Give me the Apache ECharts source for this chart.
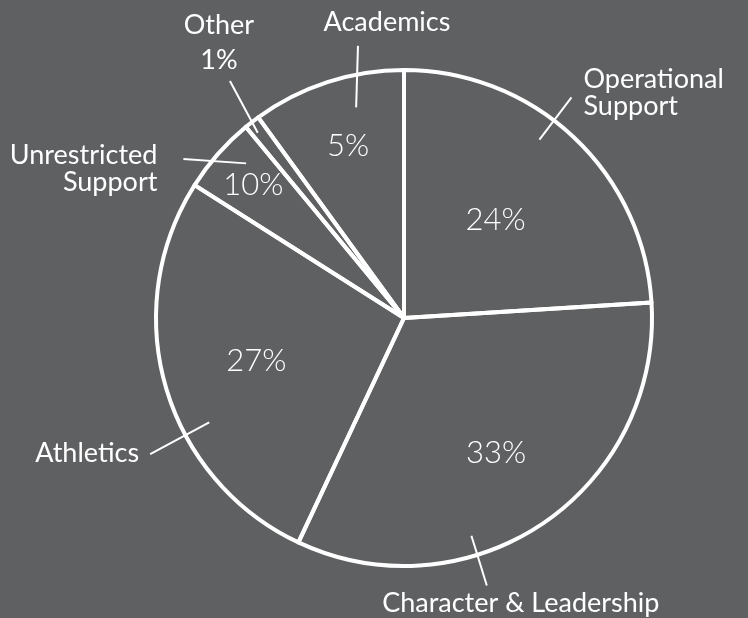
<!DOCTYPE html>
<html>
<head>
<meta charset="utf-8">
<script src="https://cdn.jsdelivr.net/npm/echarts@6/dist/echarts.min.js"></script>
<style>
  html, body { margin: 0; padding: 0; background: #5f6062; }
  #chart { width: 748px; height: 618px; }
</style>
</head>
<body>
<div id="chart"></div>
<script>
// clockwise from 12 o'clock
const categories = ['Operational\nSupport', 'Character & Leadership', 'Athletics', 'Unrestricted\nSupport', 'Other', 'Academics']
// slice sizes as drawn in the picture (measured from the angles)
const shares = [24, 33, 27, 5, 1, 10]
// percentages as printed on the picture (the source prints 10% / 5% on the
// Unrestricted / Academics slices although the drawn slices are the other way round)
const printedPct = ['24%', '33%', '27%', '10%', '1%', '5%']

const FONT = 'Lato'
const CENTER = [404, 318]
const R = 248
const total = shares.reduce((a, b) => a + b, 0)

// label tweaks (not data): radial spot of the % text, leader-line turn/radii, text anchor
const pctRadius = [0.54, 0.66, 0.62, 0.81, 0, 0.73]
const nameLabel = [
  { turn: [-6, -6], r1: 224, r2: 277, align: 'left', dx: 12, dy: -5 },
  { turn: [17, 17], r1: 228, r2: 280, align: 'center', dx: 34, dy: 18 },
  { turn: [-12, -12], r1: 221, r2: 288, align: 'right', dx: -11, dy: -1 },
  { turn: [3, -5.6], r1: 221, r2: 272, align: 'right', dx: -26, dy: 10 },
  { turn: [-0.5, 1.5], r1: 236, r2: 294, align: 'center', dx: -11, dy: -38 },
  { turn: [5.2, 8.4], r1: 216, r2: 276, align: 'center', dx: 29, dy: -24 }
]

function midAngle(i) {
  let before = 0
  for (let k = 0; k < i; k++) before += shares[k]
  return (before + shares[i] / 2) / total * 360
}

function polar(deg, r) {
  const a = deg * Math.PI / 180
  return [CENTER[0] + r * Math.sin(a), CENTER[1] - r * Math.cos(a)]
}

const chart = echarts.init(document.getElementById('chart'))

const data = categories.map((name, i) => ({ name: name, value: shares[i] }))
const nameData = categories.map((name, i) => {
  const item = { name: name, value: shares[i] }
  if (name === 'Other') item.label = { lineHeight: 35 }
  return item
})

chart.setOption({
  backgroundColor: '#5f6062',
  animation: false,
  series: [
    {
      // the visible pie (outline only, background shows through)
      type: 'pie',
      center: CENTER,
      radius: R,
      startAngle: 90,
      silent: true,
      avoidLabelOverlap: false,
      itemStyle: { color: 'transparent', borderColor: '#ffffff', borderWidth: 4 },
      label: { show: false },
      labelLine: { show: false },
      data: data
    },
    {
      // percentage labels inside the slices
      type: 'pie',
      center: CENTER,
      radius: R,
      startAngle: 90,
      silent: true,
      avoidLabelOverlap: false,
      itemStyle: { color: 'transparent' },
      label: {
        position: 'inside',
        color: '#ffffff',
        fontFamily: FONT,
        fontWeight: 300,
        fontSize: 31,
        formatter: (p) => (p.dataIndex === 4 ? '' : printedPct[p.dataIndex])
      },
      labelLine: { show: false },
      labelLayout: (p) => {
        const pt = polar(midAngle(p.dataIndex), R * pctRadius[p.dataIndex])
        return { x: pt[0], y: pt[1], align: 'center', verticalAlign: 'middle' }
      },
      data: data
    },
    {
      // category names outside, leader lines crossing the rim
      type: 'pie',
      center: CENTER,
      radius: R * 0.88,
      startAngle: 90,
      silent: true,
      avoidLabelOverlap: false,
      itemStyle: { color: 'transparent' },
      label: {
        position: 'outside',
        color: '#ffffff',
        fontFamily: FONT,
        fontSize: 27,
        lineHeight: 27,
        overflow: 'none',
        formatter: (p) => (p.dataIndex === 4 ? p.name + '\n' + printedPct[4] : p.name)
      },
      labelLine: {
        show: true,
        length: 58,
        length2: 0,
        lineStyle: { color: '#ffffff', width: 2 }
      },
      labelLayout: (p) => {
        const cfg = nameLabel[p.dataIndex]
        const mid = midAngle(p.dataIndex)
        const a = polar(mid + cfg.turn[0], cfg.r1)
        const b = polar(mid + cfg.turn[1], cfg.r2)
        return {
          x: b[0] + cfg.dx,
          y: b[1] + cfg.dy,
          align: cfg.align,
          verticalAlign: 'middle',
          labelLinePoints: [a, b, b]
        }
      },
      data: nameData
    }
  ]
})
</script>
</body>
</html>
